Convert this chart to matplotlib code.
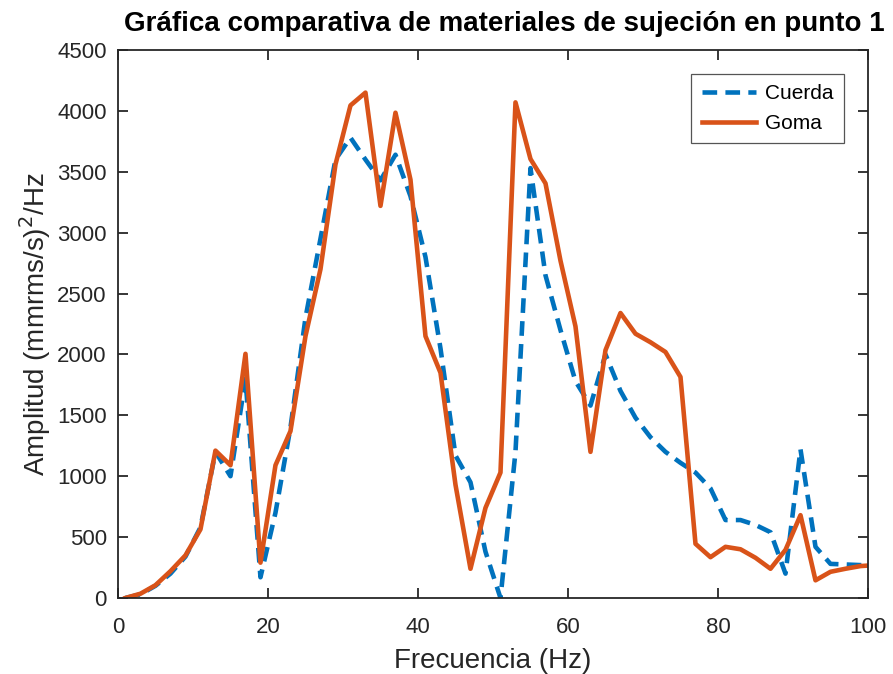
import matplotlib
matplotlib.use('Agg')
import matplotlib.pyplot as plt
import numpy as np

# frecuencias (Hz) - puntos impares
frecuencia = np.arange(1, 102, 2)

# Cuerda (azul, discontinua)
cuerda = [0, 30, 100, 200, 340, 580, 1200, 1000, 1800, 170,
          700, 1400, 2300, 2950, 3600, 3780, 3600, 3430, 3640, 3300,
          2800, 2050, 1170, 950, 380, 0, 1200, 3530, 2650, 2200,
          1780, 1580, 2000, 1700, 1480, 1320, 1200, 1110, 1030, 900,
          640, 640, 600, 540, 200, 1220, 420, 280, 275, 270,
          270]

# Goma (naranja, continua)
goma = [0, 35, 105, 220, 350, 564, 1210, 1090, 2005, 290,
        1090, 1370, 2150, 2700, 3560, 4045, 4150, 3220, 3985, 3435,
        2150, 1850, 930, 240, 740, 1030, 4070, 3605, 3405, 2770,
        2230, 1200, 2035, 2340, 2170, 2100, 2020, 1815, 445, 335,
        420, 400, 330, 240, 395, 680, 145, 215, 240, 262,
        270]

azul = '#0072BD'
naranja = '#D95319'
gris = '#262626'
fuente = 'Liberation Sans'

fig = plt.figure(figsize=(8.93, 6.74), dpi=100)
ax = fig.add_axes([0.1321, 0.1128, 0.8399, 0.813])

ax.plot(frecuencia, cuerda, '--', color=azul, linewidth=3.3, dashes=(3.2, 1.8), label='Cuerda')
ax.plot(frecuencia, goma, '-', color=naranja, linewidth=3.3, label='Goma')

ax.set_xlim(0, 100)
ax.set_ylim(0, 4500)
ax.set_xticks(np.arange(0, 101, 20))
ax.set_yticks(np.arange(0, 4501, 500))

ax.tick_params(direction='in', length=7, width=1.3, top=True, right=True,
               labelsize=16, colors=gris)
ax.tick_params(axis='x', pad=14)
ax.tick_params(axis='y', pad=8)
for lbl in ax.get_xticklabels() + ax.get_yticklabels():
    lbl.set_family(fuente)
for s in ax.spines.values():
    s.set_color(gris)
    s.set_linewidth(1.3)

ax.set_xlabel('Frecuencia (Hz)', fontsize=20, family=fuente, color=gris, labelpad=7)
ax.set_ylabel('Amplitud (mmrms/s)$^2$/Hz', fontsize=20, family=fuente, color=gris, labelpad=3)
ax.set_title('Gráfica comparativa de materiales de sujeción en punto 1',
             fontsize=20, fontweight='bold', family=fuente, pad=14, x=0.515)

leg = ax.legend(loc='upper right', fancybox=False, edgecolor='#555555',
                prop={'family': fuente, 'size': 15}, handlelength=2.6,
                handletextpad=0.45, borderaxespad=1.15, framealpha=1, borderpad=0.5)
leg.get_frame().set_linewidth(0.9)

plt.savefig('out.png', dpi=100)
